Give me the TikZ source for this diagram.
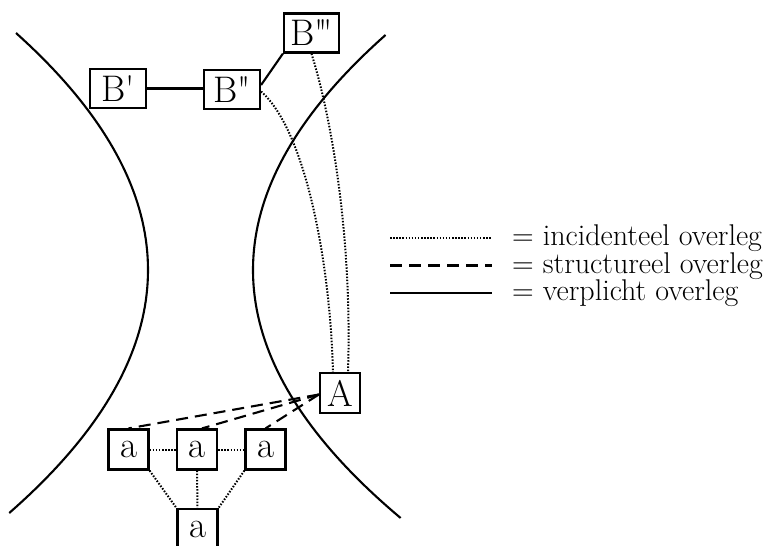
\documentclass[tikz,border=0pt]{standalone}
\usepackage{fontspec}
% straight prime marks, set close together
\newcommand\pr{\textquotesingle}
\newcommand\prk{\kern-0.13em}
\begin{document}
\begin{tikzpicture}[x=1pt,y=-1pt,
  box/.style={draw,line width=2.2pt,inner sep=0pt,minimum width=40pt,minimum height=40pt,
    font=\fontsize{37}{42}\selectfont},
  bbox/.style={box,minimum width=56pt,minimum height=39pt},
  wall/.style={line width=2.1pt},
  solidlink/.style={line width=2.1pt},
  dashlink/.style={line width=2.1pt,dash pattern=on 12pt off 7pt},
  dotlink/.style={line width=2pt,dash pattern=on 1.5pt off 1.6pt},
  legendtext/.style={anchor=base west,inner sep=0pt,font=\fontsize{30}{34}\selectfont}]
\useasboundingbox (0,0) rectangle (764,546);

% the two boundary curves (parabolic arcs)
\draw[wall] plot[domain=33:513,samples=80,variable=\t]
  ({148-23.5*((\t-270)/100)*((\t-270)/100)},\t);
\draw[wall] plot[domain=35:518,samples=80,variable=\t]
  ({253+24*((\t-270)/100)*((\t-270)/100)},\t);

% parties
\node[bbox] (Bp) at (118,88.5) {B\pr};
\node[bbox] (Bpp) at (232,89.5) {B\pr\prk\pr};
\node[bbox,minimum width=55pt] (Bppp) at (311.5,33) {B\pr\prk\pr\prk\pr};
\node[box] (A) at (340,393) {A};
\node[box] (a1) at (128.5,449.5) {a};
\node[box] (a2) at (197,449.5) {a};
\node[box] (a3) at (265.5,449.5) {a};
\node[box] (a4) at (197.5,529) {a};

% obligatory consultation
\draw[solidlink] (Bp.east) -- (Bp.east -| Bpp.west);
\draw[solidlink] ([yshift=4.5pt]Bpp.east) -- (Bppp.south west);

% incidental consultation
\draw[dotlink] ([yshift=-2pt]Bpp.east) .. controls (305,130) and (330,260) .. ([xshift=-7pt]A.north);
\draw[dotlink] (Bppp.south) .. controls (335,130) and (352,250) .. ([xshift=8pt]A.north);
\draw[dotlink] (a1) -- (a2);
\draw[dotlink] (a2) -- (a3);
\draw[dotlink] (a1.south east) -- (a4.north west);
\draw[dotlink] (a2) -- (a4);
\draw[dotlink] (a3.south west) -- (a4.north east);

% structural consultation
\coordinate (hub) at ([yshift=-1.5pt]A.west);
\draw[dashlink] (hub) -- (a1.north);
\draw[dashlink] (hub) -- ([xshift=5pt]a2.north);
\draw[dashlink] (hub) -- (a3.north);

% legend
\coordinate (k1a) at (390,238); \coordinate (k1b) at (492,238);
\coordinate (k2a) at (390,265.5); \coordinate (k2b) at (492,265.5);
\coordinate (k3a) at (390,293); \coordinate (k3b) at (492,293);
\draw[dotlink] (k1a) -- (k1b);
\draw[dashlink] (k2a) -- (k2b);
\draw[solidlink] (k3a) -- (k3b);
\node[legendtext] (t1) at (512,245.5) {= incidenteel overleg};
\node[legendtext] (t2) at (512,273) {= structureel overleg};
\node[legendtext] (t3) at (512,300.5) {= verplicht overleg};
\end{tikzpicture}
\end{document}
